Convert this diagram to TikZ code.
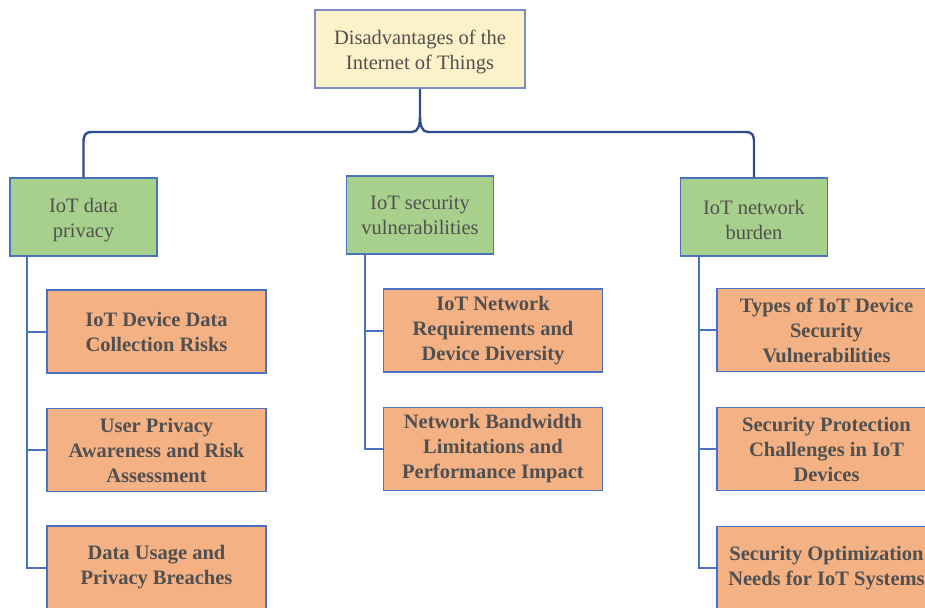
\documentclass[tikz,border=0pt]{standalone}
\usepackage{fontspec}
\setmainfont{Liberation Serif}[BoldFont={Liberation Serif Bold}]
% a tall strut that lowers two-line labels a little inside their boxes
\newcommand{\lowerlabel}{\rule{0pt}{21pt}}
\begin{document}
\begin{tikzpicture}[x=1pt,y=-1pt,
  every node/.style={inner sep=0pt, align=center, text=txtgrey},
  rootbox/.style={draw=rootedge, fill=rootfill, line width=1.6pt,
    minimum width=210pt, minimum height=78pt, font=\rmfamily\fontsize{20.5}{25}\selectfont},
  catbox/.style={draw=edgeblue, fill=catfill, line width=1.4pt,
    minimum width=147pt, minimum height=78pt, font=\rmfamily\fontsize{20.5}{25}\selectfont},
  leafbox/.style={draw=edgeblue, fill=leaffill, line width=1.4pt,
    minimum width=219pt, minimum height=83pt, font=\rmfamily\bfseries\fontsize{20.5}{25}\selectfont},
  brace/.style={draw=bracecol, line width=2.4pt},
  branch/.style={draw=edgeblue, line width=2pt}]
\definecolor{txtgrey}{HTML}{505050}
\definecolor{rootfill}{HTML}{FDF1C9}
\definecolor{rootedge}{HTML}{7D8CC9}
\definecolor{catfill}{HTML}{A8D08D}
\definecolor{leaffill}{HTML}{F4B183}
\definecolor{edgeblue}{HTML}{4A72C0}
\definecolor{bracecol}{HTML}{2F4C8E}
\useasboundingbox (0,0) rectangle (925,607);
\fill[white] (0,0) rectangle (925,607);

% root and the three categories
\node[rootbox] (root) at (420,49) {\lowerlabel Disadvantages of the\\Internet of Things};
\node[catbox] (c1) at (83.5,217) {\lowerlabel IoT data\\privacy};
\node[catbox] (c2) at (420,215) {IoT security\\vulnerabilities};
\node[catbox] (c3) at (754,217) {\lowerlabel IoT network\\burden};

% leaves under each category
\node[leafbox] (a1) at (156.5,331.5) {IoT Device Data\\Collection Risks};
\node[leafbox] (a2) at (156.5,450) {User Privacy\\Awareness and Risk\\Assessment};
\node[leafbox] (a3) at (156.5,567.5) {Data Usage and\\Privacy Breaches};
\node[leafbox] (b1) at (493,330.5) {IoT Network\\Requirements and\\Device Diversity};
\node[leafbox] (b2) at (493,449) {Network Bandwidth\\Limitations and\\Performance Impact};
\node[leafbox] (d1) at (826.5,330) {Types of IoT Device\\Security\\Vulnerabilities};
\node[leafbox] (d2) at (826.5,449) {Security Protection\\Challenges in IoT\\Devices};
\node[leafbox] (d3) at (826.5,568) {Security Optimization\\Needs for IoT Systems};

% curly connector from the root to the categories
\coordinate (mid) at (root.south |- 0,132);
\draw[brace] (c1.north) -- ++(0,-34)
  .. controls ++(0,-8) and ++(-8,0) .. ([xshift=9pt]c1.north |- mid)
  -- ([xshift=-8pt]mid)
  .. controls ++(6,0) and ++(0,8) .. ([yshift=15pt]mid)
  -- (root.south);
\draw[brace] (c3.north) -- ++(0,-34)
  .. controls ++(0,-8) and ++(8,0) .. ([xshift=-9pt]c3.north |- mid)
  -- ([xshift=8pt]mid)
  .. controls ++(-6,0) and ++(0,8) .. ([yshift=15pt]mid);

% branch lines to the leaves
\coordinate (s1) at (27,0);
\coordinate (s2) at (365,0);
\coordinate (s3) at (699,0);
\draw[branch] (s1 |- c1.south) -- (s1 |- a3.west) -- (a3.west);
\draw[branch] (s1 |- a1.west) -- (a1.west);
\draw[branch] (s1 |- a2.west) -- (a2.west);
\draw[branch] (s2 |- c2.south) -- (s2 |- b2.west) -- (b2.west);
\draw[branch] (s2 |- b1.west) -- (b1.west);
\draw[branch] (s3 |- c3.south) -- (s3 |- d3.west) -- (d3.west);
\draw[branch] (s3 |- d1.west) -- (d1.west);
\draw[branch] (s3 |- d2.west) -- (d2.west);
\end{tikzpicture}
\end{document}
